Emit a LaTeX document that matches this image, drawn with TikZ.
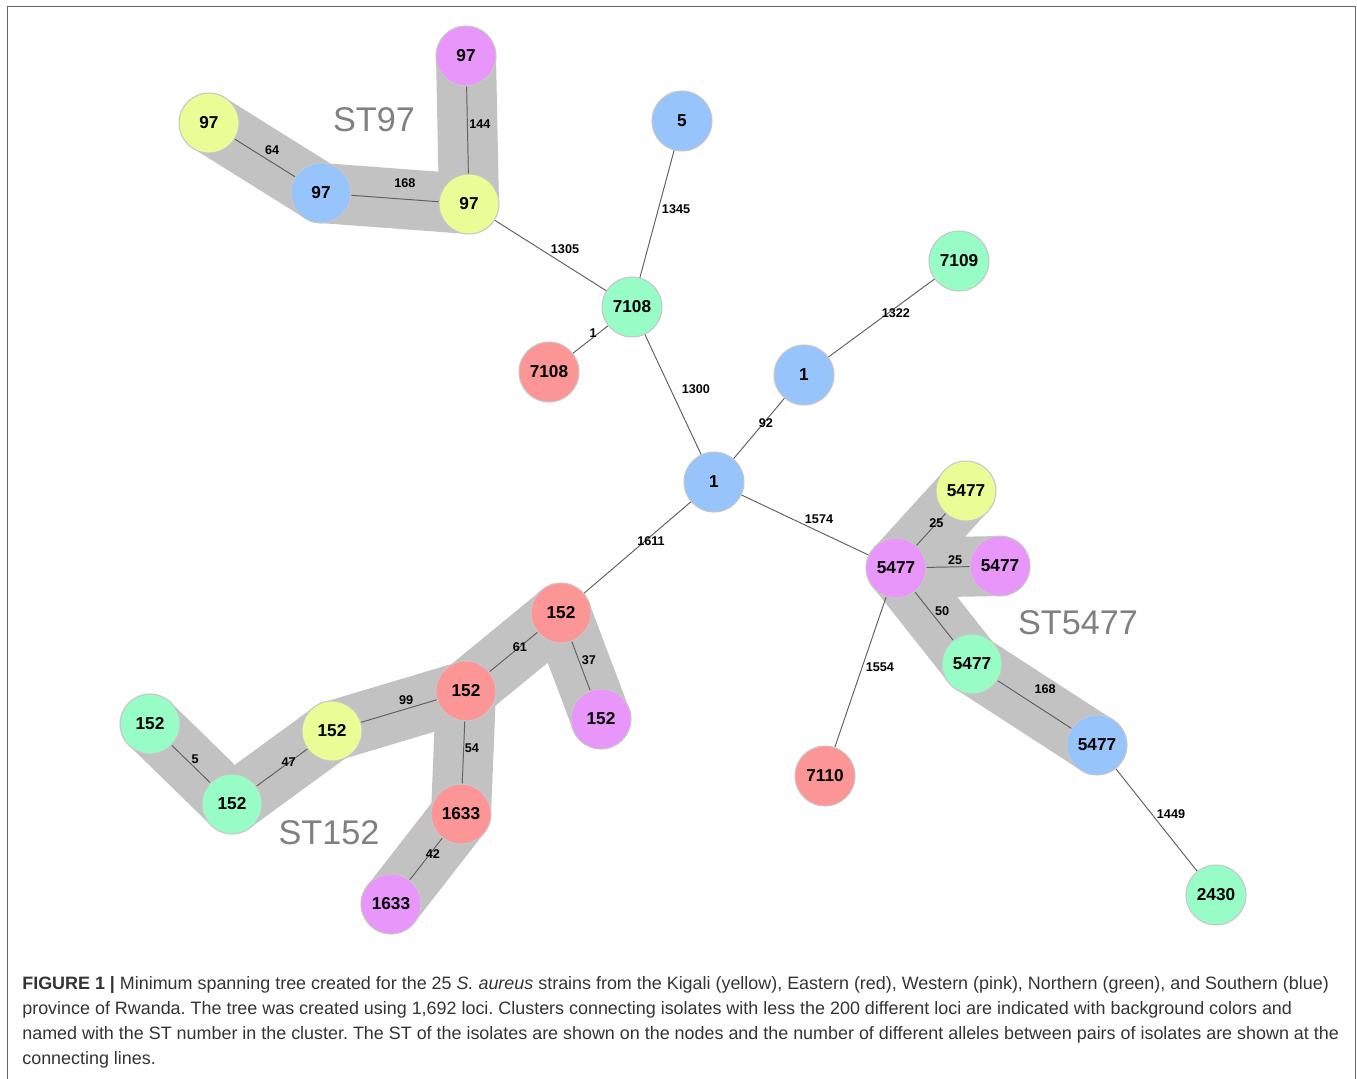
\documentclass[tikz,border=0pt]{standalone}
\usepackage{fontspec}
\setmainfont{Liberation Sans}
\usepackage{tikz}
\usetikzlibrary{backgrounds}
\definecolor{isoyellow}{HTML}{EAFC96}
\definecolor{isored}{HTML}{FC9696}
\definecolor{isopink}{HTML}{E896FA}
\definecolor{isogreen}{HTML}{98FCC6}
\definecolor{isoblue}{HTML}{98C4FC}
\definecolor{bandgray}{HTML}{C2C2C2}
\frenchspacing

\begin{document}
\begin{tikzpicture}[x=0.02cm,y=-0.02cm]
    \tikzstyle{iso}=[circle,minimum size=1.2cm,inner sep=0pt,draw=black!22,line width=0.6pt,font=\fontsize{9.8}{11}\selectfont\bfseries]
    \tikzstyle{band}=[draw=bandgray,line width=1.2cm,line cap=round,line join=round]
    \tikzstyle{link}=[draw=black!62,line width=0.55pt]
    \tikzstyle{lbl}=[inner sep=0pt,font=\fontsize{7.2}{8}\selectfont\bfseries]
    \tikzstyle{stname}=[text=black!50,font=\fontsize{19.5}{22}\selectfont]
    \useasboundingbox (0,0) rectangle (1357,1079);
    \draw[black!60,line width=0.8pt] (7.5,1079) -- (7.5,6.5) -- (1355.5,6.5) -- (1355.5,1079);
    % ST97 group and upper branch
    \node[iso,fill=isopink] (p97a) at (466,56) {97};
    \node[iso,fill=isoyellow] (y97a) at (209,123) {97};
    \node[iso,fill=isoblue] (b97) at (321,193) {97};
    \node[iso,fill=isoyellow] (y97b) at (469,204) {97};
    \node[iso,fill=isoblue] (b5) at (682,121) {5};
    \node[iso,fill=isogreen] (g7109) at (959,261) {7109};
    \node[iso,fill=isogreen] (g7108) at (632,307) {7108};
    \node[iso,fill=isored] (r7108) at (549,372) {7108};
    \node[iso,fill=isoblue] (b1a) at (804,375) {1};
    \node[iso,fill=isoblue] (b1) at (714,482) {1};
    % ST5477 group
    \node[iso,fill=isoyellow] (y5477) at (966,491) {5477};
    \node[iso,fill=isopink] (p5477a) at (896,568) {5477};
    \node[iso,fill=isopink] (p5477b) at (1000,566) {5477};
    \node[iso,fill=isogreen] (g5477) at (972,664) {5477};
    \node[iso,fill=isoblue] (b5477) at (1097,745) {5477};
    \node[iso,fill=isogreen] (g2430) at (1216,895) {2430};
    \node[iso,fill=isored] (r7110) at (825,776) {7110};
    % ST152 group
    \node[iso,fill=isored] (r152a) at (561,613) {152};
    \node[iso,fill=isored] (r152b) at (466,691) {152};
    \node[iso,fill=isopink] (p152) at (601,719) {152};
    \node[iso,fill=isoyellow] (y152) at (332,731) {152};
    \node[iso,fill=isogreen] (g152a) at (150,724) {152};
    \node[iso,fill=isogreen] (g152b) at (232,804) {152};
    \node[iso,fill=isored] (r1633) at (461,814) {1633};
    \node[iso,fill=isopink] (p1633) at (391,904) {1633};
    % cluster names
    \node[stname] (st97) at (374,120) {ST97};
    \node[stname] (st5477) at (1078,623) {ST5477};
    \node[stname] (st152) at (329,833) {ST152};
    \begin{scope}[on background layer]
        \draw[band] (y97a.center) -- (b97.center) -- (y97b.center) -- (p97a.center);
        \draw[band] (y5477.center) -- (p5477a.center) -- (p5477b.center);
        \draw[band] (p5477a.center) -- (g5477.center) -- (b5477.center);
        \draw[band] (g152a.center) -- (g152b.center) -- (y152.center) -- (r152b.center) -- (r152a.center) -- (p152.center);
        \draw[band] (r152b.center) -- (r1633.center) -- (p1633.center);
        % connecting lines with allele counts
        \draw[link] (y97a.center) -- node[lbl,pos=.513,xshift=3.2pt,yshift=5pt] (l64) {64} (b97.center);
        \draw[link] (b97.center) -- node[lbl,pos=.559,xshift=.7pt,yshift=9.1pt] (l168a) {168} (y97b.center);
        \draw[link] (p97a.center) -- node[lbl,pos=.461,xshift=7.1pt] (l144) {144} (y97b.center);
        \draw[link] (y97b.center) -- node[lbl,pos=.546,xshift=4pt,yshift=6.3pt] (l1305) {1305} (g7108.center);
        \draw[link] (b5.center) -- node[lbl,pos=.449,xshift=9.4pt,yshift=-2.5pt] (l1345) {1345} (g7108.center);
        \draw[link] (g7109.center) -- node[lbl,pos=.424,xshift=1.5pt,yshift=-2.1pt] (l1322) {1322} (b1a.center);
        \draw[link] (g7108.center) -- node[lbl,pos=.443,xshift=-1.2pt,yshift=1.6pt] (l1) {1} (r7108.center);
        \draw[link] (g7108.center) -- node[lbl,pos=.525,xshift=11.9pt,yshift=5.6pt] (l1300) {1300} (b1.center);
        \draw[link] (b1a.center) -- node[lbl,pos=.438,xshift=.8pt,yshift=-.7pt] (l92) {92} (b1.center);
        \draw[link] (b1.center) -- node[lbl,pos=.55,xshift=2.8pt,yshift=5.8pt] (l1574) {1574} (p5477a.center);
        \draw[link] (b1.center) -- node[lbl,pos=.428,xshift=1.4pt,yshift=-1.6pt] (l1611) {1611} (r152a.center);
        \draw[link] (y5477.center) -- node[lbl,pos=.422] (l25a) {25} (p5477a.center);
        \draw[link] (p5477a.center) -- node[lbl,pos=.569,yshift=3.9pt] (l25b) {25} (p5477b.center);
        \draw[link] (p5477a.center) -- node[lbl,pos=.509,xshift=4.2pt,yshift=3.3pt] (l50) {50} (g5477.center);
        \draw[link] (g5477.center) -- node[lbl,pos=.503,xshift=5.8pt,yshift=8.9pt] (l168b) {168} (b5477.center);
        \draw[link] (p5477a.center) -- node[lbl,pos=.45,xshift=9pt,yshift=-3.1pt] (l1554) {1554} (r7110.center);
        \draw[link] (b5477.center) -- node[lbl,pos=.523,xshift=6.7pt,yshift=5.3pt] (l1449) {1449} (g2430.center);
        \draw[link] (r152a.center) -- node[lbl,pos=.433] (l61) {61} (r152b.center);
        \draw[link] (r152a.center) -- node[lbl,pos=.475,xshift=5.1pt,yshift=1.9pt] (l37) {37} (p152.center);
        \draw[link] (y152.center) -- node[lbl,pos=.571,xshift=-1.4pt,yshift=4.6pt] (l99) {99} (r152b.center);
        \draw[link] (r152b.center) -- node[lbl,pos=.461,xshift=4.7pt] (l54) {54} (r1633.center);
        \draw[link] (g152a.center) -- node[lbl,pos=.495,xshift=2.6pt,yshift=2.6pt] (l5) {5} (g152b.center);
        \draw[link] (g152b.center) -- node[lbl,pos=.567] (l47) {47} (y152.center);
        \draw[link] (r1633.center) -- node[lbl,pos=.428,xshift=1pt,yshift=-.8pt] (l42) {42} (p1633.center);
    \end{scope}
    % caption
    \node[anchor=north west,inner sep=0pt,align=left,text=black!80,font=\fontsize{10.2}{14.2}\selectfont] (caption) at (22,976)
        {\textbf{FIGURE 1 |} Minimum spanning tree created for the 25 \textit{S. aureus} strains from the Kigali (yellow), Eastern (red), Western (pink), Northern (green), and Southern (blue)\\
        province of Rwanda. The tree was created using 1,692 loci. Clusters connecting isolates with less the 200 different loci are indicated with background colors and\\
        named with the ST number in the cluster. The ST of the isolates are shown on the nodes and the number of different alleles between pairs of isolates are shown at the\\
        connecting lines.};
\end{tikzpicture}
\end{document}
